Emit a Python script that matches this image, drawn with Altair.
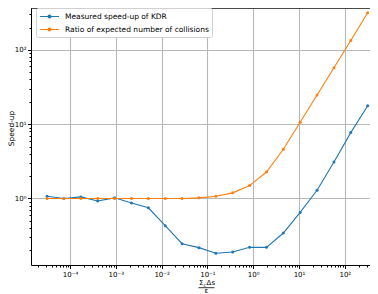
import altair as alt
import pandas as pd

# x positions of the samples (sum_c * ds / eps)
x_vals = [3.16e-5, 7.37e-5, 1.73e-4, 4.03e-4, 9.41e-4, 2.20e-3, 5.14e-3, 0.0120,
          0.0280, 0.0654, 0.153, 0.357, 0.834, 1.95, 4.55, 10.6, 24.8, 58.0, 135, 316]
kdr_speedup = [1.07, 1.0, 1.05, 0.925, 1.02, 0.87, 0.75, 0.43, 0.246, 0.218,
               0.183, 0.19, 0.22, 0.22, 0.343, 0.65, 1.29, 3.1, 7.7, 17.7]
collision_ratio = [1.0, 1.0, 1.0, 1.0, 1.0, 1.0, 1.0, 1.0, 1.0, 1.02,
                   1.07, 1.19, 1.49, 2.27, 4.6, 10.6, 24.7, 57.5, 134, 316]
series_names = ["Measured speed-up of KDR", "Ratio of expected number of collisions"]
series_colors = ["#1f77b4", "#ff7f0e"]

X_DOMAIN = [1.408e-5, 355]
Y_DOMAIN = [0.1273, 366]
x_ticks = [k * 10.0 ** e for e in range(-5, 3) for k in range(1, 10)]
x_ticks = [v for v in x_ticks if X_DOMAIN[0] < v < X_DOMAIN[1]]
y_ticks = [k * 10.0 ** e for e in range(-1, 3) for k in range(1, 10)]
y_ticks = [v for v in y_ticks if Y_DOMAIN[0] < v < Y_DOMAIN[1]]

rows = []
for xv, a, b in zip(x_vals, kdr_speedup, collision_ratio):
    rows.append({"x": xv, "y": a, "series": series_names[0]})
    rows.append({"x": xv, "y": b, "series": series_names[1]})
df = pd.DataFrame(rows)

E = "round(log(datum.value)/LN10)"
DEC = f"abs(log(datum.value)/LN10 - {E}) < 0.001"
sup = {-5: "⁻⁵", -4: "⁻⁴", -3: "⁻³", -2: "⁻²", -1: "⁻¹", 0: "⁰", 1: "¹", 2: "²"}
inner = "''"
for e, s in sup.items():
    inner = f"({E}=={e}?'10{s}':{inner})"
LABEL = f"({DEC}) ? {inner} : ''"

FONT = "DejaVu Sans"


def log_axis(values, title=None, **kw):
    return alt.Axis(
        values=values,
        labelExpr=LABEL,
        tickSize={"condition": {"test": DEC, "value": 3.5}, "value": 2},
        gridOpacity={"condition": {"test": DEC, "value": 1}, "value": 0},
        gridColor="#b8b8b8",
        gridWidth=1.1,
        domainColor="black",
        tickColor="black",
        labelColor="black",
        labelFont=FONT,
        labelFontSize=7,
        labelPadding=1.5,
        labelOverlap=False,
        labelFlush=False,
        title=title,
        titleFont=FONT,
        titleFontSize=7.5,
        titleFontWeight="normal",
        titleColor="black",
        **kw,
    )


legend_symbol = ("M-2,0L2,0 M0.3,0 A0.3,0.3 0 1,1 -0.3,0 "
                 "A0.3,0.3 0 1,1 0.3,0 Z")

lines = alt.Chart(df).mark_line(
    strokeWidth=1.1,
    point=alt.OverlayMarkDef(filled=True, size=9),
).encode(
    x=alt.X("x:Q", scale=alt.Scale(type="log", domain=X_DOMAIN, nice=False),
            axis=log_axis(x_ticks)),
    y=alt.Y("y:Q", scale=alt.Scale(type="log", domain=Y_DOMAIN, nice=False),
            axis=log_axis(y_ticks, title="Speed-up", titleX=-19.5, titleY=120,
                          titleAngle=270, titleAlign="center",
                          titleBaseline="middle")),
    color=alt.Color("series:N",
                    scale=alt.Scale(domain=series_names, range=series_colors),
                    legend=alt.Legend(
                        title=None, orient="none", legendX=5, legendY=0,
                        fillColor="white", strokeColor="#d0d0d0", cornerRadius=2,
                        padding=3, rowPadding=3,
                        symbolType=legend_symbol, symbolSize=90,
                        symbolOffset=5, symbolStrokeWidth=1.2,
                        labelFont=FONT, labelFontSize=7.5, labelColor="black",
                        labelOffset=10)),
    order=alt.Order("x:Q"),
)

one = pd.DataFrame({"a": [0]})
txt = dict(font=FONT, color="black")
top_spine = alt.Chart(one).mark_rule(color="black", strokeWidth=0.8).encode(
    x=alt.value(0), x2=alt.value(339), y=alt.value(0.4))
num_sigma = alt.Chart(one).mark_text(fontSize=7, align="left", baseline="alphabetic", **txt).encode(
    x=alt.value(168), y=alt.value(277), text=alt.value("Σ"))
num_c = alt.Chart(one).mark_text(fontSize=5, align="left", baseline="alphabetic", **txt).encode(
    x=alt.value(172.6), y=alt.value(278.5), text=alt.value("c"))
num_ds = alt.Chart(one).mark_text(fontSize=7, align="left", baseline="alphabetic", **txt).encode(
    x=alt.value(175.6), y=alt.value(277), text=alt.value("Δs"))
bar = alt.Chart(one).mark_rule(color="black", strokeWidth=0.8).encode(
    x=alt.value(167.5), x2=alt.value(183.5), y=alt.value(279.7))
den = alt.Chart(one).mark_text(fontSize=7, align="center", baseline="alphabetic", **txt).encode(
    x=alt.value(175.5), y=alt.value(284.5), text=alt.value("ε"))

chart = alt.layer(lines, top_spine, num_sigma, num_c, num_ds, bar, den).properties(
    width=339, height=257,
    padding={"left": 23, "top": 0, "right": 0, "bottom": 29},
    autosize=alt.AutoSizeParams(type="none"),
    background="white",
).configure_view(stroke=None)

chart.save("out.html", embed_options={"renderer": "svg", "actions": False})
